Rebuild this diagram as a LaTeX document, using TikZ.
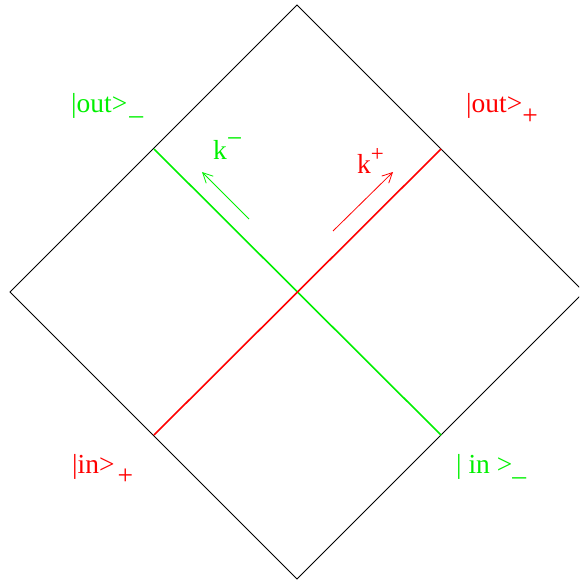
\documentclass[tikz,border=0pt]{standalone}
\usepackage{fontspec}
\setmainfont{Liberation Serif}
\usepackage{xcolor}
\usetikzlibrary{arrows.meta}

\definecolor{fgreen}{RGB}{0,240,0}
\definecolor{fred}{RGB}{255,0,0}

\begin{document}
\begin{tikzpicture}[x=1pt, y=-1pt,
    lbl/.style={anchor=base west, inner sep=0pt, font=\fontsize{27.5}{30}\selectfont},
    ray/.style={line width=1.6pt},
    mom/.style={line width=0.8pt, -{Straight Barb[length=10pt,width=10pt]}}]
  \useasboundingbox (0, 0) rectangle (579, 581);
  \clip (0, 0) rectangle (579, 581);

  % corners of the diamond
  \coordinate (top) at (297, 5);
  \coordinate (left) at (10, 292);
  \coordinate (bottom) at (297, 579);
  \coordinate (right) at (584, 292);
  \draw[line width=0.8pt] (top) -- (right) -- (bottom) -- (left) -- cycle;

  % light rays
  \coordinate (gA) at (154, 149);
  \coordinate (gB) at (441, 435);
  \coordinate (rA) at (154, 435);
  \coordinate (rB) at (441, 149);
  \draw[ray, fgreen] (gA) -- (gB);
  \draw[ray, fred] (rA) -- (rB);

  % momenta
  \coordinate (km0) at (249, 219);
  \coordinate (km1) at (202, 172);
  \coordinate (kp0) at (333, 231);
  \coordinate (kp1) at (393, 172);
  \draw[mom, fgreen] (km0) -- (km1);
  \draw[mom, fred] (kp0) -- (kp1);

  \node[lbl, fgreen] (kminus) at (213, 159) {k\raisebox{0.42em}{−}};
  \node[lbl, fred] (kplus) at (357, 173) {k\raisebox{12pt}{\fontsize{23}{25}\selectfont +}};

  % states
  \node[lbl, fgreen] (outm) at (71, 112) {|out>\hspace{2pt}\raisebox{-0.1em}{\_}};
  \node[lbl, fred] (outp) at (466, 112) {|out>\raisebox{-0.44em}{+}};
  \node[lbl, fred] (inp) at (72, 473) {|in>\hspace{3pt}\raisebox{-0.42em}{+}};
  \node[lbl, fgreen] (inm) at (456, 473) {| in >\raisebox{-0.1em}{\_}};
\end{tikzpicture}
\end{document}
